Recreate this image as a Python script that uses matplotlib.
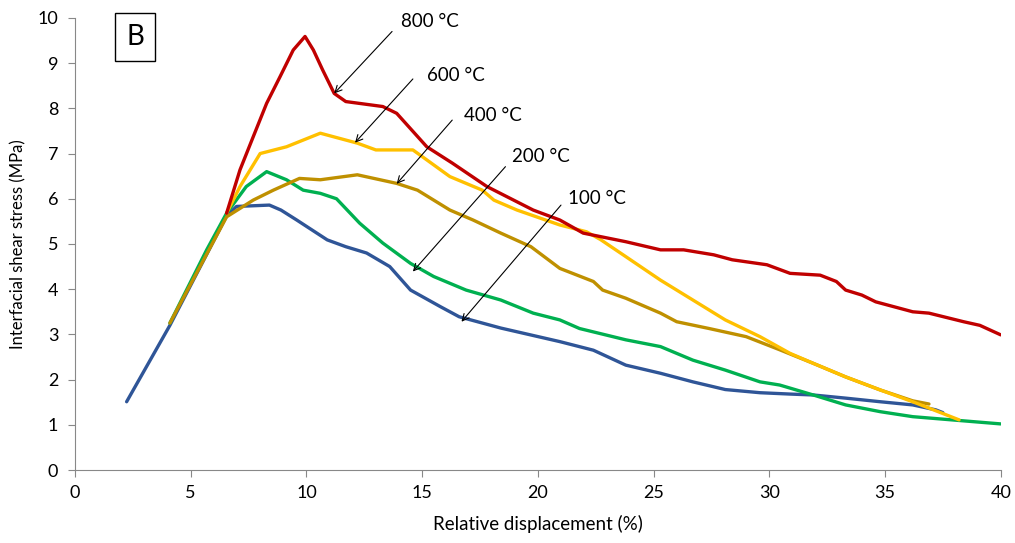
import matplotlib.pyplot as plt

plt.rcParams['font.family'] = ['Lato', 'DejaVu Sans']

# --- Data (relative displacement %, shear stress MPa) ---
x_100 = [2.23, 4.1, 6.55, 6.98, 8.4, 8.9, 9.58, 10.9, 11.7, 12.6, 13.6, 14.5, 15.8, 16.6,
         18.4, 20.95, 22.4, 23.8, 25.3, 26.7, 28.1, 29.6, 30.9, 31.9, 33.3, 34.8, 36.2,
         37.2, 37.5]
y_100 = [1.51, 3.2, 5.62, 5.83, 5.86, 5.75, 5.53, 5.09, 4.94, 4.8, 4.5, 3.98, 3.61, 3.39,
         3.14, 2.84, 2.65, 2.32, 2.14, 1.95, 1.78, 1.71, 1.68, 1.66, 1.59, 1.51, 1.44,
         1.33, 1.27]

x_200 = [4.1, 5.69, 6.55, 7.4, 8.28, 9.14, 9.86, 10.6, 11.3, 12.3, 13.3, 14.5, 15.5, 16.9,
         18.4, 19.8, 20.95, 21.8, 23.8, 25.3, 26.7, 28.1, 29.6, 30.45, 31.9, 33.3, 34.8,
         36.2, 38.1, 40.0]
y_200 = [3.25, 4.87, 5.68, 6.27, 6.6, 6.42, 6.19, 6.12, 6.0, 5.46, 5.02, 4.57, 4.28, 3.98,
         3.76, 3.47, 3.32, 3.13, 2.88, 2.73, 2.43, 2.21, 1.95, 1.88, 1.66, 1.44, 1.29,
         1.18, 1.1, 1.02]

x_400 = [4.1, 6.55, 7.7, 8.57, 9.7, 10.6, 12.2, 13.9, 14.8, 16.2, 17.2, 18.4, 19.7,
         20.95, 22.4, 22.8, 23.8, 25.3, 26.0, 27.4, 29.0, 30.45, 31.9, 33.3, 34.8, 36.2,
         36.9]
y_400 = [3.25, 5.6, 5.97, 6.19, 6.45, 6.42, 6.53, 6.34, 6.19, 5.75, 5.53, 5.24, 4.94,
         4.46, 4.17, 3.98, 3.8, 3.47, 3.28, 3.13, 2.95, 2.66, 2.36, 2.06, 1.77, 1.53,
         1.46]

x_600 = [6.55, 7.13, 8.0, 9.14, 10.6, 11.4, 12.2, 13.0, 14.6, 15.2, 16.2, 17.6, 18.1,
         19.1, 20.95, 22.1, 22.7, 23.8, 25.3, 26.7, 28.1, 29.6, 30.9, 31.9, 33.3, 34.8,
         36.2, 38.2]
y_600 = [5.68, 6.27, 7.0, 7.15, 7.45, 7.34, 7.23, 7.08, 7.08, 6.86, 6.49, 6.19, 5.97,
         5.75, 5.42, 5.27, 5.1, 4.72, 4.2, 3.76, 3.32, 2.95, 2.58, 2.36, 2.06, 1.77,
         1.51, 1.11]

x_800 = [6.55, 7.13, 7.7, 8.28, 8.86, 9.43, 9.94, 10.3, 10.7, 11.2, 11.7, 13.3, 13.9,
         15.2, 16.3, 17.8, 19.8, 20.95, 21.96, 23.8, 25.3, 26.3, 27.6, 28.4, 29.9, 30.9,
         32.2, 32.9, 33.3, 34.0, 34.6, 36.2, 36.9, 38.4, 39.1, 40.0]
y_800 = [5.68, 6.64, 7.37, 8.11, 8.7, 9.29, 9.59, 9.29, 8.85, 8.33, 8.15, 8.04, 7.89,
         7.15, 6.79, 6.27, 5.75, 5.53, 5.24, 5.05, 4.87, 4.87, 4.76, 4.65, 4.54, 4.35,
         4.31, 4.17, 3.98, 3.87, 3.72, 3.5, 3.47, 3.28, 3.2, 2.99]

labels = ['100 °C', '200 °C', '400 °C', '600 °C', '800 °C']
colors = ['#2F5597', '#00B050', '#BF9000', '#FFC000', '#C00000']
# label text position, arrow tail and arrow tip (data units)
label_pos = [(21.3, 6.0), (18.9, 6.93), (16.8, 7.85), (15.2, 8.72), (14.1, 9.92)]
arrow_tail = [(21.0, 5.86), (18.6, 6.71), (16.3, 7.74), (14.6, 8.65), (13.7, 9.7)]
arrow_tip = [(16.7, 3.28), (14.6, 4.39), (13.9, 6.33), (12.1, 7.24), (11.2, 8.33)]

fig = plt.figure(figsize=(10.15, 5.43), dpi=100)
ax = fig.add_axes([0.0739, 0.1344, 0.912, 0.8326])

series = [(x_100, y_100), (x_200, y_200), (x_400, y_400), (x_600, y_600), (x_800, y_800)]
for (xs, ys), c in zip(series, colors):
    ax.plot(xs, ys, color=c, lw=2.4, solid_joinstyle='round', solid_capstyle='round')

for lab, (tx, ty), tail, tip in zip(labels, label_pos, arrow_tail, arrow_tip):
    ax.annotate('', xy=tip, xytext=tail,
                arrowprops=dict(arrowstyle='->', color='black', lw=0.8,
                                shrinkA=0, shrinkB=0, mutation_scale=12))
    ax.text(tx, ty, lab, fontsize=13.5, va='center', ha='left')

ax.set_xlim(0, 40)
ax.set_ylim(0, 10)
ax.set_xticks(range(0, 41, 5))
ax.set_yticks(range(0, 11))
ax.spines['top'].set_visible(False)
ax.spines['right'].set_visible(False)
for s in ['left', 'bottom']:
    ax.spines[s].set_color('#888888')
ax.tick_params(colors='#888888', labelcolor='black', labelsize=13, length=5)
ax.tick_params(axis='x', pad=6)
ax.tick_params(axis='y', pad=7)
ax.set_xlabel('Relative displacement (%)', fontsize=13.5)
ax.set_ylabel('Interfacial shear stress (MPa)', fontsize=12)
ax.xaxis.set_label_coords(0.5, -0.10)
ax.yaxis.set_label_coords(-0.053, 0.5)

fig.text(0.133, 0.932, 'B', fontsize=20, ha='center', va='center',
         bbox=dict(boxstyle='square,pad=0.4', fc='white', ec='black', lw=1))

fig.savefig('out.png', dpi=100)
